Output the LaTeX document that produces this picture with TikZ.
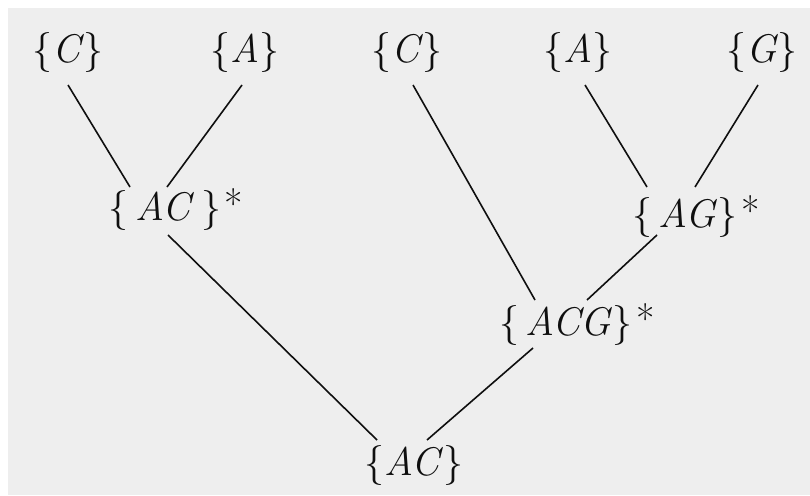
\documentclass[tikz,border=0pt]{standalone}
\usetikzlibrary{calc}
\definecolor{bg}{RGB}{238,238,238}
\definecolor{ink}{RGB}{15,15,15}
\tikzset{
  lbl/.style={inner sep=0pt, text=ink, font=\fontsize{40}{42}\selectfont},
  star/.style={inner sep=0pt, text=ink, anchor=north west, font=\fontsize{40}{42}\selectfont},
  edge/.style={draw=ink, line width=1.6pt}
}
\begin{document}
\begin{tikzpicture}[x=1pt,y=-1pt]
\useasboundingbox (0,0) rectangle (810,495);
\fill[white] (0,0) rectangle (810,495);
\fill[bg] (8,8) rectangle (810,495);
% top row
\node[lbl] (c1) at (68,53) {\{\textit{C}\}};
\node[lbl] (a1) at (245,53) {\{\textit{A}\}};
\node[lbl] (c2) at (407,53) {\{\textit{C}\}};
\node[lbl] (a2) at (578,53) {\{\textit{A}\}};
\node[lbl] (g2) at (762,53) {\{\textit{G}\}};
% middle
\node[lbl] (ac1) at (165,210) {\{\,\textit{AC}\,\}};
\node[star] (s1) at ($(ac1.east)+(3,-22)$) {*};
\node[lbl] (ag) at (685,217) {\{\,\textit{AG}\}};
\node[star] (s2) at ($(ag.east)+(3,-22)$) {*};
\node[lbl] (acg) at (566,325) {\{\,\textit{ACG}\}};
\node[star] (s3) at ($(acg.east)+(3,-22)$) {*};
% bottom
\node[lbl] (ac) at (414,465) {\{\textit{AC}\}};
% edges
\draw[edge] ($(c1)+(0,32)$) -- ($(ac1)+(-35,-23)$);
\draw[edge] ($(a1)+(-3,32)$) -- ($(ac1)+(2,-23)$);
\draw[edge] ($(c2)+(6,32)$) -- ($(acg)+(-31,-25)$);
\draw[edge] ($(a2)+(7,32)$) -- ($(ag)+(-38,-30)$);
\draw[edge] ($(g2)+(-4,32)$) -- ($(ag)+(10,-30)$);
\draw[edge] ($(ag)+(-28,18)$) -- ($(acg)+(21,-25)$);
\draw[edge] ($(acg)+(-33,23)$) -- ($(ac)+(13,-25)$);
\draw[edge] ($(ac1)+(3,25)$) -- ($(ac)+(-37,-25)$);
\end{tikzpicture}
\end{document}
